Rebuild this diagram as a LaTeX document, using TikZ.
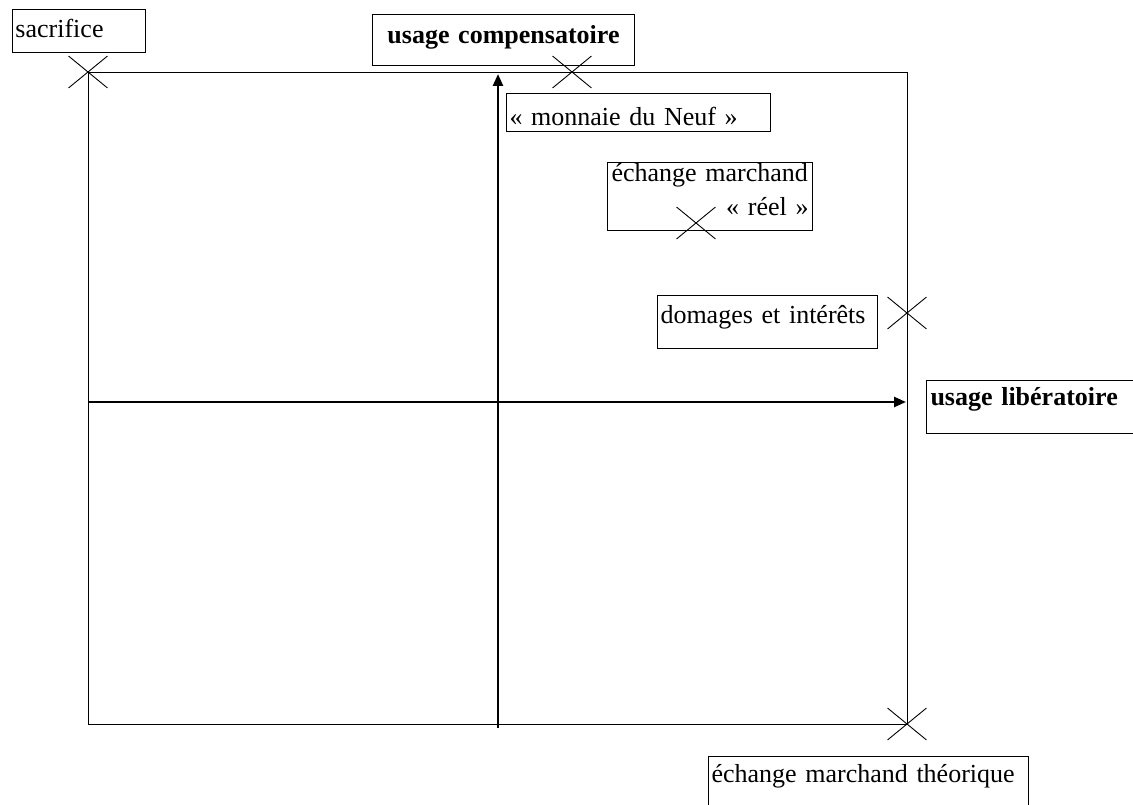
\documentclass[tikz,border=0pt]{standalone}
\usepackage{fontspec}
\setmainfont{Liberation Serif}
\usetikzlibrary{arrows.meta,shapes.misc}
\begin{document}
\begin{tikzpicture}[x=1pt,y=-1pt,
  font=\fontsize{26}{34}\selectfont,
  tbox/.style={draw, line width=1pt, anchor=north west, inner ysep=0pt, inner xsep=3pt, align=left},
  boldtext/.style={font=\fontsize{26}{34}\selectfont\bfseries},
  markx/.style={draw, cross out, line width=0.9pt, minimum width=38pt, minimum height=31pt, inner sep=0pt},
  axis/.style={line width=2.5pt, -{Triangle[length=12pt,width=10pt]}},
  frame/.style={draw, line width=1.1pt, anchor=north west, inner sep=0pt}]
\useasboundingbox (0,0) rectangle (1133,805);
\clip (0,0) rectangle (1133,805);

% main frame
\node[frame, minimum width=819pt, minimum height=652pt] (fr) at (88,72) {};

% axes
\coordinate (xs) at (88,402);
\coordinate (xe) at (906,402);
\coordinate (ys) at (498,728);
\coordinate (ye) at (498,74);
\draw[axis] (xs) -- (xe);
\draw[axis] (ys) -- (ye);

% labels
\node[tbox, text width=127pt, text height=28pt, text depth=15pt] (sac) at (12,9) {sacrifice};
\node[tbox, boldtext, align=center, text width=256pt, text height=29pt, text depth=22pt] (comp) at (372,14) {usage compensatoire};
\node[tbox, text width=258pt, text height=32pt, text depth=6pt] (neuf) at (506,93) {« monnaie du Neuf »};
\node[tbox, inner xsep=4pt, text width=197pt, text height=19pt, text depth=49pt] (reel) at (607,162) {\mbox{échange marchand}\\\mbox{}\hfill\mbox{« réel »}};
\node[tbox, text width=214pt, text height=28pt, text depth=25pt] (dom) at (657,295) {domages et intérêts};
\node[tbox, boldtext, inner xsep=4pt, text width=250pt, text height=25pt, text depth=28pt] (lib) at (926,380) {usage libératoire};
\node[tbox, text width=314pt, text height=26pt, text depth=40pt] (theo) at (708,756) {échange marchand théorique};

% crosses
\node[markx] (m1) at (88,72) {};
\node[markx] (m2) at (572,72) {};
\node[markx] (m3) at (696,223) {};
\node[markx] (m4) at (907,313) {};
\node[markx] (m5) at (907,724) {};
\end{tikzpicture}
\end{document}
